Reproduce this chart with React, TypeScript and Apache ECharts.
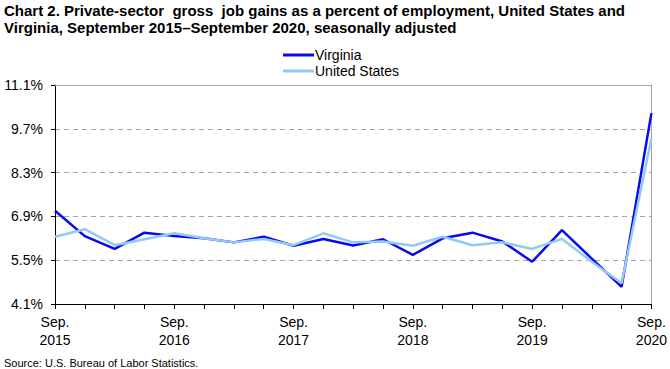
import React, { useEffect, useRef } from "react";
import * as echarts from "echarts";

const categories = [
  "Sep. 2015", "Dec. 2015", "Mar. 2016", "Jun. 2016", "Sep. 2016", "Dec. 2016", "Mar. 2017",
  "Jun. 2017", "Sep. 2017", "Dec. 2017", "Mar. 2018", "Jun. 2018", "Sep. 2018", "Dec. 2018",
  "Mar. 2019", "Jun. 2019", "Sep. 2019", "Dec. 2019", "Mar. 2020", "Jun. 2020", "Sep. 2020",
];
const virginia = [7.08, 6.27, 5.86, 6.38, 6.27, 6.2, 6.07, 6.25, 5.96, 6.18, 5.97, 6.17, 5.67, 6.2, 6.38, 6.1, 5.45, 6.46, 5.55, 4.65, 10.2];
const unitedStates = [6.25, 6.49, 5.98, 6.17, 6.36, 6.2, 6.07, 6.18, 5.98, 6.36, 6.07, 6.1, 5.96, 6.25, 5.98, 6.07, 5.86, 6.18, 5.45, 4.76, 9.4];
const yTicks = [4.1, 5.5, 6.9, 8.3, 9.7, 11.1];

const titleText =
  "Chart 2. Private-sector  gross  job gains as a percent of employment, United States and\nVirginia, September 2015\u2013September 2020, seasonally adjusted";
const sourceText = "Source: U.S. Bureau of Labor Statistics.";

const FONT = "'Liberation Sans', Arial, sans-serif";

export default function App() {
  const ref = useRef<HTMLDivElement>(null);
  useEffect(() => {
    if (!ref.current) return;
    const chart = echarts.init(ref.current, null, { renderer: "svg" });
    chart.setOption({
      animation: false,
      textStyle: { fontFamily: FONT },
      title: [
        {
          text: titleText,
          left: 4,
          top: 2,
          padding: 0,
          textStyle: { fontSize: 15, fontWeight: "bold", color: "#000", lineHeight: 17, fontFamily: FONT },
        },
        {
          text: sourceText,
          left: 4,
          top: 357,
          padding: 0,
          textStyle: { fontSize: 11, fontWeight: "normal", color: "#000", lineHeight: 12 },
        },
      ],
      legend: {
        orient: "vertical",
        left: 283,
        top: 48,
        padding: 0,
        itemGap: 2,
        itemWidth: 31,
        itemHeight: 3,
        icon: "rect",
        textStyle: { fontSize: 14, color: "#000", padding: [0, 0, 0, -4] },
        data: ["Virginia", "United States"],
      },
      grid: { left: 55, right: 17, top: 85, bottom: 65, containLabel: false },
      xAxis: [
        {
          type: "category",
          data: categories,
          boundaryGap: false,
          axisLine: { lineStyle: { color: "#000", width: 1 } },
          axisTick: { show: true, interval: 0, length: 5, lineStyle: { color: "#000" } },
          axisLabel: {
            interval: 3,
            fontSize: 14,
            color: "#000",
            lineHeight: 18,
            margin: 9,
            formatter: (v: string) => v.replace(" ", "\n"),
          },
          splitLine: { show: false },
        },
        {
          type: "category",
          data: categories,
          position: "top",
          boundaryGap: false,
          axisLine: { lineStyle: { color: "#a6a6a6", width: 1 } },
          axisTick: { show: false },
          axisLabel: { show: false },
        },
      ],
      yAxis: [
        {
          type: "value",
          min: 4.1,
          max: 11.1,
          axisLine: { show: true, lineStyle: { color: "#000" } },
          axisTick: { show: true, length: 4, customValues: yTicks, lineStyle: { color: "#000" } },
          axisLabel: {
            customValues: yTicks,
            fontSize: 14,
            color: "#000",
            margin: 12,
            formatter: (v: number) => v.toFixed(1) + "%",
          },
          splitLine: { show: true, lineStyle: { color: "#a6a6a6", type: [5, 4], width: 1 } },
        },
        {
          type: "value",
          min: 4.1,
          max: 11.1,
          position: "right",
          axisLine: { show: true, lineStyle: { color: "#a6a6a6" } },
          axisTick: { show: false },
          axisLabel: { show: false },
          splitLine: { show: false },
        },
      ],
      series: [
        {
          name: "Virginia",
          type: "line",
          data: virginia,
          symbol: "none",
          lineStyle: { color: "#0a0aee", width: 2.5 },
          itemStyle: { color: "#0a0aee" },
        },
        {
          name: "United States",
          type: "line",
          data: unitedStates,
          symbol: "none",
          lineStyle: { color: "#93c9f7", width: 2.5 },
          itemStyle: { color: "#93c9f7" },
        },
      ],
    });
    return () => chart.dispose();
  }, []);
  return <div ref={ref} style={{ width: 670, height: 369, position: "absolute", left: 0, top: 0 }} />;
}
